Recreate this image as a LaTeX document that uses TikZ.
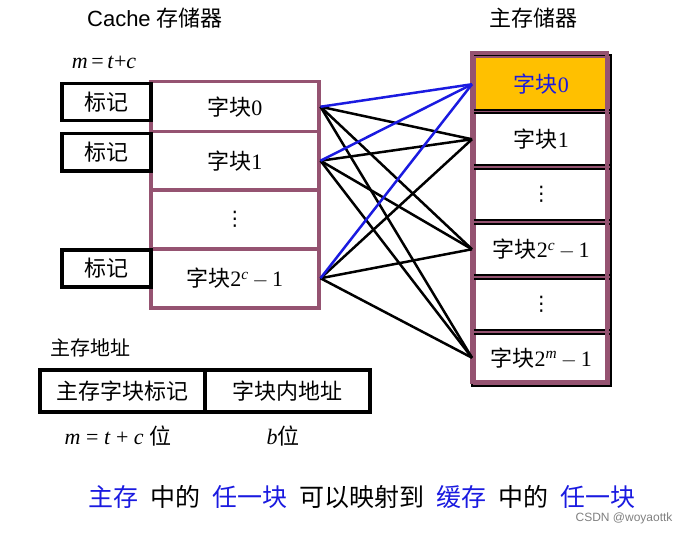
\documentclass[tikz,border=0pt]{standalone}
\usepackage{fontspec}
\setmainfont{Liberation Serif}
\newfontfamily\cjk{Noto Sans CJK SC}
\newfontfamily\arial{Liberation Sans}
\newfontfamily\dejavu{DejaVu Sans}
\definecolor{purp}{HTML}{955371}
\definecolor{orng}{HTML}{FFC000}
\definecolor{blu}{HTML}{1A1AE0}
\newcommand{\vdts}{{\dejavu\fontsize{20}{22}\selectfont ⋮}}
\begin{document}
\begin{tikzpicture}[x=1pt,y=-1pt,
  txt/.style={font=\fontsize{22}{24}\selectfont},
  pbox/.style={draw=purp,line width=3.5pt,fill=white,inner sep=1pt},
  tagbox/.style={draw=black,line width=3.5pt,fill=white,inner sep=1pt},
  bk/.style={black,line width=2.5pt},
  bl/.style={blu,line width=2.5pt}]
\useasboundingbox (0,0) rectangle (689,535);
% cache
\node[pbox,minimum width=168,minimum height=50,anchor=north west,txt] (c0) at (149,80) {{\cjk 字块}0};
\node[pbox,minimum width=168,minimum height=58,anchor=north west,txt] (c1) at (149,130) {{\cjk 字块}1};
\node[pbox,minimum width=168,minimum height=59,anchor=north west,txt] (c2) at (149,188) {\vdts};
\node[pbox,minimum width=168,minimum height=59,anchor=north west,txt] (c3) at (149,247) {{\cjk 字块}2\textsuperscript{\itshape c}\,$-$\,1};
\node[tagbox,minimum width=89,minimum height=37,anchor=north west,txt] (t0) at (60,82) {\cjk 标记};
\node[tagbox,minimum width=89,minimum height=37,anchor=north west,txt] (t1) at (60,132) {\cjk 标记};
\node[tagbox,minimum width=89,minimum height=37,anchor=north west,txt] (t3) at (60,248) {\cjk 标记};
% memory
\node[pbox,fill=orng,minimum width=135,minimum height=55,anchor=north west,txt,text=blu] (m0) at (472,55) {{\cjk 字块}0};
\node[pbox,minimum width=135,minimum height=55,anchor=north west,txt] (m1) at (472,110) {{\cjk 字块}1};
\node[pbox,minimum width=135,minimum height=55,anchor=north west,txt] (m2) at (472,165) {\vdts};
\node[pbox,minimum width=135,minimum height=55,anchor=north west,txt] (m3) at (472,220) {{\cjk 字块}2\textsuperscript{\itshape c}\,$-$\,1};
\node[pbox,minimum width=135,minimum height=55,anchor=north west,txt] (m4) at (472,275) {\vdts};
\node[pbox,minimum width=135,minimum height=52,anchor=north west,txt] (m5) at (472,330) {{\cjk 字块}2\textsuperscript{\itshape m}\,$-$\,1};
\foreach \m in {0,1,2,3,4,5} \draw[black,line width=2pt] (m\m.north west) rectangle (m\m.south east);
\draw[purp,line width=3.5pt] (472,53) rectangle (607,382);
% connectors
\foreach \c in {c0,c1,c3}{
  \foreach \m in {m1,m3,m5} \draw[bk] (\c.east) -- (\m.west);
}
\foreach \c in {c0,c1,c3} \draw[bl] (\c.east) -- (m0.west);
% labels
\node[font=\arial\fontsize{22}{24}\selectfont] (h1) at (155,18) {Cache {\cjk 存储器}};
\node[font=\cjk\fontsize{22}{24}\selectfont] (h2) at (533,18) {主存储器};
\node[txt] (mt) at (104,62) {\textit{m}\,=\,\textit{t}+\textit{c}};
\node[font=\cjk\fontsize{20}{22}\selectfont] (ad) at (90,348) {主存地址};
\node[tagbox,minimum width=165,minimum height=42,anchor=north west,txt] (a1) at (38,368) {\cjk 主存字块标记};
\node[tagbox,minimum width=165,minimum height=42,anchor=north west,txt] (a2) at (203,368) {\cjk 字块内地址};
\node[txt] (l1) at (118,436) {\textit{m} = \textit{t} + \textit{c} {\cjk 位}};
\node[txt] (l2) at (283,436) {\textit{b}{\cjk 位}};
\node[font=\cjk\fontsize{25}{27}\selectfont] (bot) at (362,497) {\textcolor{blu}{主存}\hspace{12pt}中的\hspace{12pt}\textcolor{blu}{任一块}\hspace{12pt}可以映射到\hspace{12pt}\textcolor{blu}{缓存}\hspace{12pt}中的\hspace{12pt}\textcolor{blu}{任一块}};
\node[font=\arial\fontsize{12}{13}\selectfont,text=gray,anchor=east] (wm) at (676,518) {CSDN @woyaottk};
\end{tikzpicture}
\end{document}
